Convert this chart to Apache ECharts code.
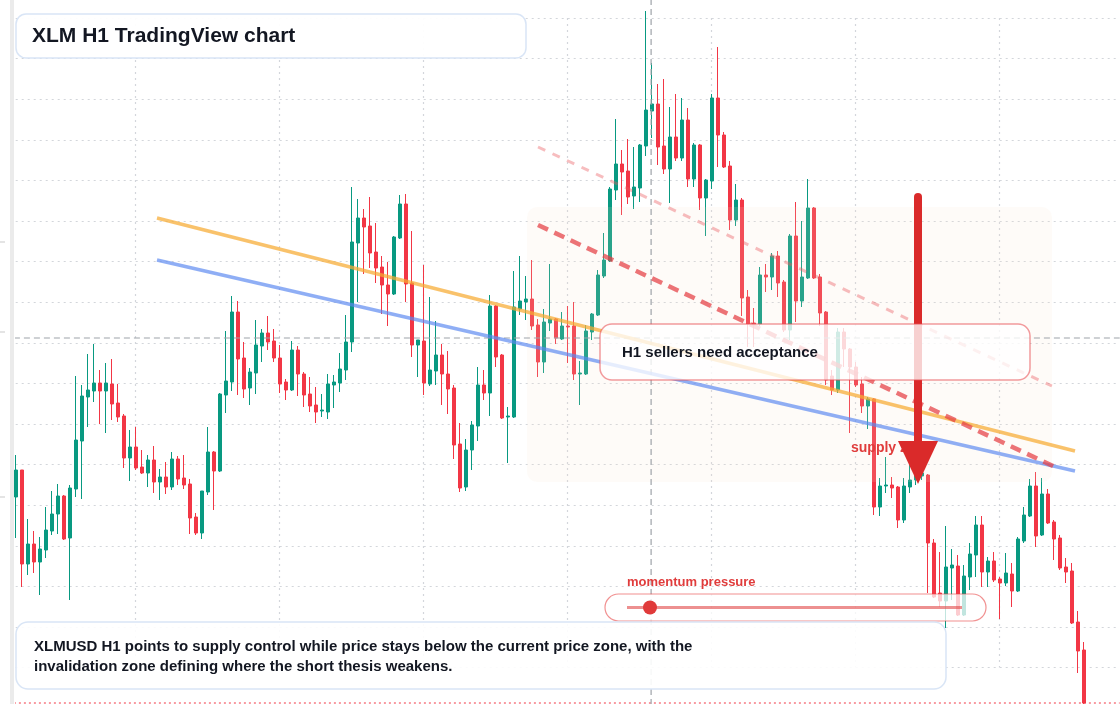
<!DOCTYPE html>
<html>
<head>
<meta charset="utf-8">
<title>XLM H1 TradingView chart</title>
<script src="https://cdn.jsdelivr.net/npm/echarts@6/dist/echarts.min.js"></script>
<style>
html, body { margin: 0; padding: 0; background: #fff; }
#main { width: 1120px; height: 704px; }
</style>
</head>
<body>
<div id="main"></div>
<script>
// hourly candles (price = XLMUSD)
const open = [
  0.2972,0.2999,0.2905,0.2925,0.2907,0.2919,0.2938,0.2955,0.2973,0.2931,
  0.2980,0.3028,0.3072,0.3078,0.3086,0.3078,0.3085,0.3066,0.3053,0.3011,
  0.3022,0.3002,0.2996,0.3009,0.2987,0.2992,0.2982,0.3010,0.2991,0.2985,
  0.2952,0.2936,0.2977,0.3017,0.2998,0.3074,0.3087,0.3157,0.3111,0.3081,
  0.3096,0.3123,0.3136,0.3128,0.3111,0.3087,0.3079,0.3119,0.3095,0.3075,
  0.3064,0.3058,0.3057,0.3084,0.3086,0.3099,0.3127,0.3226,0.3251,0.3243,
  0.3217,0.3202,0.3184,0.3175,0.3231,0.3265,0.3186,0.3124,0.3128,0.3085,
  0.3098,0.3114,0.3095,0.3081,0.3025,0.2982,0.3019,0.3043,0.3084,0.3076,
  0.3163,0.3114,0.3052,0.3052,0.3160,0.3167,0.3170,0.3144,0.3107,0.3146,
  0.3150,0.3130,0.3143,0.3143,0.3095,0.3095,0.3137,0.3154,0.3193,0.3208,
  0.3279,0.3305,0.3298,0.3273,0.3281,0.3323,0.3358,0.3365,0.3323,0.3300,
  0.3332,0.3311,0.3349,0.3290,0.3324,0.3271,0.3288,0.3371,0.3334,0.3303,
  0.3249,0.3269,0.3172,0.3146,0.3145,0.3194,0.3192,0.3213,0.3187,0.3139,
  0.3233,0.3168,0.3191,0.3261,0.3192,0.3157,0.3093,0.3079,0.3137,0.3120,
  0.3102,0.3085,0.3063,0.3070,0.2962,0.2983,0.2984,0.2982,0.2949,0.2982,
  0.2989,0.2993,0.2994,0.2926,0.2876,0.2868,0.2901,0.2903,0.2854,0.2892,
  0.2914,0.2944,0.2897,0.2908,0.2890,0.2886,0.2895,0.2878,0.2928,0.2953,
  0.2983,0.2934,0.2975,0.2947,0.2931,0.2902,0.2898,0.2847,0.2819
];
const close = [
  0.2999,0.2905,0.2925,0.2907,0.2920,0.2939,0.2955,0.2973,0.2930,0.2981,
  0.3029,0.3073,0.3079,0.3086,0.3078,0.3086,0.3065,0.3052,0.3011,0.3022,
  0.3001,0.2996,0.3009,0.2987,0.2992,0.2982,0.3010,0.2990,0.2984,0.2951,
  0.2936,0.2978,0.3017,0.2998,0.3075,0.3088,0.3157,0.3110,0.3080,0.3097,
  0.3124,0.3136,0.3127,0.3111,0.3085,0.3079,0.3119,0.3095,0.3074,0.3063,
  0.3057,0.3059,0.3085,0.3087,0.3100,0.3127,0.3227,0.3251,0.3242,0.3216,
  0.3201,0.3184,0.3175,0.3232,0.3265,0.3185,0.3124,0.3129,0.3086,0.3099,
  0.3114,0.3095,0.3080,0.3024,0.2981,0.3019,0.3044,0.3084,0.3076,0.3163,
  0.3112,0.3051,0.3053,0.3162,0.3168,0.3170,0.3143,0.3107,0.3147,0.3150,
  0.3131,0.3143,0.3142,0.3095,0.3096,0.3138,0.3155,0.3194,0.3209,0.3280,
  0.3305,0.3297,0.3272,0.3282,0.3324,0.3359,0.3365,0.3322,0.3300,0.3332,
  0.3311,0.3349,0.3290,0.3324,0.3271,0.3289,0.3371,0.3334,0.3302,0.3249,
  0.3269,0.3171,0.3145,0.3144,0.3194,0.3192,0.3213,0.3186,0.3139,0.3233,
  0.3168,0.3192,0.3261,0.3191,0.3156,0.3089,0.3079,0.3137,0.3120,0.3102,
  0.3084,0.3063,0.3070,0.2962,0.2983,0.2984,0.2981,0.2949,0.2983,0.2989,
  0.2994,0.2996,0.2926,0.2872,0.2868,0.2902,0.2904,0.2854,0.2893,0.2915,
  0.2944,0.2897,0.2908,0.2889,0.2886,0.2896,0.2878,0.2930,0.2954,0.2983,
  0.2933,0.2975,0.2946,0.2930,0.2901,0.2897,0.2846,0.2818,0.2766
];
const low = [
  0.2931,0.2882,0.2894,0.2896,0.2874,0.2911,0.2934,0.2935,0.2929,0.2869,
  0.2972,0.2970,0.3042,0.3067,0.3045,0.3036,0.3049,0.3047,0.3001,0.2988,
  0.2999,0.2995,0.2982,0.2976,0.2969,0.2975,0.2979,0.2984,0.2980,0.2935,
  0.2934,0.2930,0.2974,0.2959,0.2997,0.3056,0.3078,0.3074,0.3071,0.3064,
  0.3075,0.3107,0.3119,0.3107,0.3076,0.3069,0.3078,0.3073,0.3062,0.3057,
  0.3046,0.3052,0.3050,0.3061,0.3077,0.3089,0.3117,0.3167,0.3195,0.3201,
  0.3186,0.3155,0.3143,0.3174,0.3230,0.3167,0.3112,0.3092,0.3074,0.3083,
  0.3084,0.3064,0.3055,0.3010,0.2977,0.2978,0.2999,0.3028,0.3069,0.3053,
  0.3102,0.3050,0.3006,0.3051,0.3154,0.3149,0.3139,0.3092,0.3096,0.3138,
  0.3125,0.3129,0.3106,0.3089,0.3064,0.3094,0.3129,0.3153,0.3191,0.3207,
  0.3269,0.3254,0.3265,0.3260,0.3267,0.3313,0.3331,0.3304,0.3295,0.3266,
  0.3308,0.3308,0.3282,0.3282,0.3259,0.3233,0.3280,0.3302,0.3301,0.3239,
  0.3243,0.3153,0.3122,0.3122,0.3143,0.3177,0.3179,0.3172,0.3137,0.3129,
  0.3147,0.3162,0.3190,0.3190,0.3143,0.3084,0.3074,0.3076,0.3102,0.3036,
  0.3082,0.3056,0.3040,0.2954,0.2953,0.2976,0.2971,0.2941,0.2946,0.2976,
  0.2984,0.2989,0.2876,0.2871,0.2862,0.2841,0.2869,0.2853,0.2853,0.2879,
  0.2892,0.2882,0.2882,0.2887,0.2850,0.2883,0.2862,0.2877,0.2926,0.2952,
  0.2922,0.2933,0.2945,0.2909,0.2899,0.2886,0.2845,0.2796,0.2765
];
const high = [
  0.3014,0.2999,0.2950,0.2938,0.2932,0.2962,0.2978,0.2985,0.2974,0.2984,
  0.3093,0.3084,0.3115,0.3125,0.3099,0.3106,0.3110,0.3085,0.3055,0.3039,
  0.3042,0.3019,0.3014,0.3023,0.3000,0.3007,0.3017,0.3013,0.3014,0.2990,
  0.2956,0.2978,0.3042,0.3018,0.3076,0.3138,0.3173,0.3168,0.3127,0.3101,
  0.3149,0.3140,0.3153,0.3140,0.3124,0.3090,0.3128,0.3123,0.3097,0.3092,
  0.3082,0.3075,0.3095,0.3094,0.3116,0.3154,0.3282,0.3270,0.3260,0.3272,
  0.3246,0.3213,0.3207,0.3233,0.3274,0.3275,0.3238,0.3129,0.3204,0.3172,
  0.3148,0.3125,0.3118,0.3084,0.3046,0.3030,0.3048,0.3102,0.3099,0.3174,
  0.3164,0.3115,0.3062,0.3198,0.3213,0.3193,0.3209,0.3150,0.3160,0.3205,
  0.3151,0.3157,0.3163,0.3167,0.3108,0.3144,0.3156,0.3199,0.3236,0.3282,
  0.3350,0.3319,0.3330,0.3322,0.3325,0.3458,0.3406,0.3385,0.3390,0.3362,
  0.3375,0.3371,0.3361,0.3326,0.3325,0.3290,0.3375,0.3422,0.3337,0.3308,
  0.3285,0.3271,0.3179,0.3161,0.3202,0.3205,0.3216,0.3218,0.3189,0.3235,
  0.3267,0.3248,0.3290,0.3262,0.3195,0.3158,0.3099,0.3141,0.3141,0.3121,
  0.3107,0.3092,0.3072,0.3071,0.2991,0.3012,0.2992,0.2983,0.2991,0.3006,
  0.2999,0.3001,0.2995,0.2930,0.2917,0.2943,0.2920,0.2914,0.2904,0.2926,
  0.2953,0.2953,0.2912,0.2917,0.2892,0.2916,0.2906,0.2932,0.2962,0.2990,
  0.2997,0.2991,0.2980,0.2949,0.2934,0.2911,0.2906,0.2858,0.2827
];

// drawn lines: [bar index, price] at both ends
const orangeLine = [[23.55, 0.3251], [176.55, 0.3018]];
const blueLine = [[23.55, 0.3209], [176.55, 0.2998]];
const supplyDash = [[87.05, 0.3244], [172.9, 0.3003]];
const upperDash = [[87.05, 0.3322], [172.7, 0.3083]];

// crosshair and last price
const crossPrice = 0.3131;
const crossBar = 105.9;
const lastPrice = close[close.length - 1];

// y scale: 16 grid steps shown
const yMin = 0.28014;
const yStep = 0.00406;
const yMax = 0.3451;

// hour labels, with a few empty slots to the right
const slots = 185;
const hours = [];
for (let i = 0; i < slots; i++) {
    const d = new Date(Date.UTC(2024, 0, 1, 0) + i * 3600000);
    hours.push(d.toISOString().slice(5, 13).replace('T', ' ') + ':00');
}

const candles = open.map(function (o, i) {
    return [o, close[i], low[i], high[i]];
});

const gridStyle = { color: '#d3d6db', width: 1.2, type: [2, 4] };
const textFont = '"Liberation Sans", Arial, sans-serif';

// straight line through two data points, drawn past the grid edges
function segment(data, color, width, type, z) {
    return {
        type: 'line',
        xAxisIndex: 1,
        data: data,
        symbol: 'none',
        silent: true,
        clip: false,
        z: z,
        lineStyle: { color: color, width: width, type: type }
    };
}

let myChart = echarts.init(document.getElementById('main'), null, { renderer: 'canvas' });

let option = {
    animation: false,
    backgroundColor: '#ffffff',
    grid: { left: 15.7, right: 0.3, top: 18, bottom: 36.4, outerBoundsMode: 'none' },
    xAxis: [
        {
            type: 'category',
            data: hours,
            boundaryGap: false,
            axisLine: { show: false },
            axisTick: { show: false },
            axisLabel: { show: false },
            splitLine: {
                show: true,
                interval: function (i) { return i % 24 === 20; },
                lineStyle: gridStyle
            }
        },
        { type: 'value', min: 0, max: slots - 1, show: false }
    ],
    yAxis: {
        type: 'value',
        min: yMin,
        max: yMax,
        interval: yStep,
        axisLine: { show: false },
        axisTick: { show: false },
        axisLabel: { show: false },
        splitLine: { show: true, lineStyle: gridStyle }
    },
    series: [
        {
            type: 'candlestick',
            data: candles,
            barWidth: 3.5,
            clip: false,
            z: 2,
            itemStyle: {
                color: '#089981',
                color0: '#f23645',
                borderColor: '#089981',
                borderColor0: '#f23645',
                borderWidth: 1
            }
        },
        // last price and crosshair
        segment([[-0.3, lastPrice], [slots - 1, lastPrice]], '#f23645', 1, [2, 3], 3),
        segment([[-0.3, crossPrice], [slots - 1, crossPrice]], '#9ea3a9', 1.2, [6, 4], 3),
        segment([[crossBar, 0.36], [crossBar, 0.27]], '#9ea3a9', 1.2, [6, 4], 3),
        // drawn trend lines
        segment(orangeLine, 'rgba(246,170,50,0.72)', 3.5, 'solid', 4),
        segment(blueLine, 'rgba(90,135,240,0.68)', 3.5, 'solid', 4),
        segment(supplyDash, 'rgba(228,62,68,0.72)', 4.5, [11, 7], 4),
        segment(upperDash, 'rgba(235,90,95,0.4)', 3, [8, 8], 4)
    ],
    graphic: [
        // left pane edge
        { type: 'rect', z: 1, shape: { x: 10, y: 0, width: 4, height: 704 }, style: { fill: '#ebebeb' } },
        { type: 'line', z: 1, shape: { x1: 0, y1: 242, x2: 5, y2: 242 }, style: { stroke: '#c9c9c9', lineWidth: 1 } },
        { type: 'line', z: 1, shape: { x1: 0, y1: 332, x2: 5, y2: 332 }, style: { stroke: '#c9c9c9', lineWidth: 1 } },
        { type: 'line', z: 1, shape: { x1: 0, y1: 497, x2: 5, y2: 497 }, style: { stroke: '#c9c9c9', lineWidth: 1 } },
        // supply zone shade
        {
            type: 'rect', z: 3,
            shape: { x: 527, y: 207, width: 525, height: 275, r: 10 },
            style: { fill: 'rgba(249,226,208,0.14)' }
        },
        {
            type: 'text', z: 5, x: 851, y: 448,
            style: { text: 'supply zone', font: 'bold 14px ' + textFont, fill: '#e03c3c', verticalAlign: 'middle' }
        },
        // big arrow
        {
            type: 'line', z: 6,
            shape: { x1: 918, y1: 197, x2: 918, y2: 446 },
            style: { stroke: '#da2a2a', lineWidth: 8, lineCap: 'round' }
        },
        {
            type: 'polygon', z: 6,
            shape: { points: [[898, 441], [938, 441], [918, 484]] },
            style: { fill: '#da2a2a' }
        },
        // acceptance box
        {
            type: 'rect', z: 7,
            shape: { x: 600, y: 324, width: 430, height: 56, r: 12 },
            style: { fill: 'rgba(255,255,255,0.78)', stroke: 'rgba(232,72,78,0.55)', lineWidth: 1.5 }
        },
        {
            type: 'text', z: 7, x: 622, y: 353,
            style: { text: 'H1 sellers need acceptance', font: 'bold 15px ' + textFont, fill: '#131722', verticalAlign: 'middle' }
        },
        // momentum pill
        {
            type: 'text', z: 8, x: 627, y: 582,
            style: { text: 'momentum pressure', font: 'bold 13px ' + textFont, fill: '#e03c3c', verticalAlign: 'middle' }
        },
        {
            type: 'rect', z: 8,
            shape: { x: 605, y: 594, width: 381, height: 27, r: 13.5 },
            style: { fill: 'rgba(255,255,255,0.75)', stroke: 'rgba(232,72,72,0.6)', lineWidth: 1.2 }
        },
        {
            type: 'line', z: 8,
            shape: { x1: 627, y1: 607.5, x2: 962, y2: 607.5 },
            style: { stroke: 'rgba(225,70,70,0.6)', lineWidth: 3 }
        },
        { type: 'circle', z: 8, shape: { cx: 650, cy: 607.5, r: 7 }, style: { fill: '#e03a3a' } },
        // title
        {
            type: 'rect', z: 9,
            shape: { x: 16, y: 14, width: 510, height: 44, r: 10 },
            style: { fill: 'rgba(255,255,255,0.94)', stroke: '#d9e5f6', lineWidth: 1.5 }
        },
        {
            type: 'text', z: 9, x: 32, y: 36,
            style: { text: 'XLM H1 TradingView chart', font: 'bold 21px ' + textFont, fill: '#131722', verticalAlign: 'middle' }
        },
        // bottom note
        {
            type: 'rect', z: 9,
            shape: { x: 16, y: 622, width: 930, height: 67, r: 12 },
            style: { fill: 'rgba(255,255,255,0.9)', stroke: '#d9e5f6', lineWidth: 1.5 }
        },
        {
            type: 'text', z: 9, x: 34, y: 647,
            style: {
                text: 'XLMUSD H1 points to supply control while price stays below the current price zone, with the',
                font: 'bold 15px ' + textFont, fill: '#131722', verticalAlign: 'middle'
            }
        },
        {
            type: 'text', z: 9, x: 34, y: 667,
            style: {
                text: 'invalidation zone defining where the short thesis weakens.',
                font: 'bold 15px ' + textFont, fill: '#131722', verticalAlign: 'middle'
            }
        }
    ]
};

myChart.setOption(option, true);
</script>
</body>
</html>
